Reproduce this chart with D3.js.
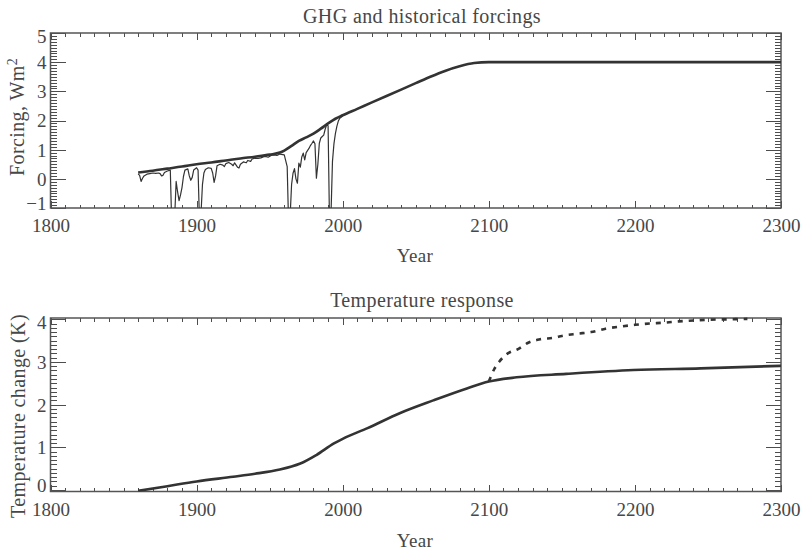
<!DOCTYPE html>
<html>
<head>
<meta charset="utf-8">
<script src="https://cdn.jsdelivr.net/npm/d3@7"></script>
<style>
  html, body { margin: 0; padding: 0; background: #fff; }
  svg { display: block; }
  text { font-family: "Liberation Serif", "DejaVu Serif", serif; fill: #474747; }
</style>
</head>
<body>
<svg id="chart" width="801" height="551"></svg>
<script>
// ---- Forcing panel data (W m^-2) ----
const ghgYears = [1860, 1870, 1880, 1890, 1900, 1910, 1920, 1930, 1940, 1950, 1957, 1960, 1965, 1970, 1975, 1980, 1985, 1990, 1995, 2000, 2010, 2020, 2030, 2040, 2050, 2060, 2070, 2080, 2090, 2100, 2300];
const ghgValues = [0.22, 0.28, 0.35, 0.42, 0.5, 0.56, 0.63, 0.70, 0.76, 0.83, 0.9, 0.97, 1.13, 1.3, 1.42, 1.55, 1.72, 1.9, 2.06, 2.18, 2.4, 2.62, 2.84, 3.06, 3.28, 3.5, 3.7, 3.86, 3.97, 4.0, 4.0];

const histYears = [1860, 1861, 1862, 1863, 1864, 1866, 1868, 1870, 1872, 1874, 1875, 1876, 1877, 1878, 1880, 1882, 1883, 1884, 1885, 1886, 1887, 1888, 1889, 1890, 1891, 1892, 1894, 1895, 1896, 1897, 1898, 1900, 1901, 1902, 1903, 1904, 1905, 1906, 1908, 1910, 1911, 1912, 1913, 1914, 1916, 1918, 1919, 1920, 1922, 1924, 1925, 1926, 1928, 1929, 1930, 1932, 1934, 1935, 1937, 1938, 1940, 1942, 1944, 1946, 1947, 1949, 1951, 1953, 1955, 1957, 1960, 1962, 1963, 1964, 1965, 1966, 1967, 1968, 1969, 1970, 1971, 1972, 1973, 1974, 1975, 1977, 1978, 1979, 1980, 1981, 1982, 1983, 1984, 1985, 1986, 1987, 1988, 1989, 1990, 1991, 1992, 1993, 1994, 1995, 1996, 1997, 1998, 2000];
const histValues = [0.17, 0.12, -0.09, 0.02, 0.1, 0.16, 0.18, 0.2, 0.19, 0.2, 0.18, 0.1, 0.12, 0.22, 0.27, 0.3, -1.6, -1.4, -1.3, -0.09, -0.45, -0.75, -0.55, -0.3, 0.08, 0.3, 0.34, 0.1, -0.05, 0.05, 0.3, 0.38, 0.3, -1.5, -1.2, -0.2, 0.2, 0.32, 0.38, 0.36, 0.2, -0.12, 0.1, 0.45, 0.5, 0.47, 0.42, 0.52, 0.56, 0.5, 0.45, 0.55, 0.4, 0.37, 0.5, 0.58, 0.55, 0.63, 0.6, 0.68, 0.71, 0.7, 0.72, 0.76, 0.77, 0.74, 0.8, 0.82, 0.8, 0.85, 0.82, 0.42, -1.6, -1.3, -0.2, 0.19, 0.35, 0.0, -0.15, 0.54, 0.4, 0.75, 0.88, 0.65, 0.9, 1.05, 1.15, 1.22, 1.3, 1.2, 0.02, 0.5, 1.22, 1.4, 1.45, 1.5, 1.7, 1.85, 1.82, -1.6, -1.2, 0.6, 1.2, 1.55, 1.8, 1.98, 2.08, 2.15];

// ---- Temperature panel data (K) ----
const tempYears = [1860, 1880, 1900, 1925, 1940, 1957, 1965, 1971, 1982, 1994, 2000, 2017, 2039, 2062, 2085, 2100, 2119, 2153, 2199, 2245, 2300];
const tempValues = [-0.02, 0.09, 0.2, 0.31, 0.38, 0.48, 0.55, 0.62, 0.82, 1.09, 1.2, 1.45, 1.8, 2.1, 2.38, 2.54, 2.64, 2.72, 2.81, 2.85, 2.91];

const altYears = [2100, 2104, 2107, 2113, 2120, 2127, 2135, 2145, 2150, 2160, 2170, 2180, 2190, 2200, 2210, 2220, 2230, 2240, 2250, 2265, 2277];
const altValues = [2.54, 2.85, 3.0, 3.2, 3.3, 3.45, 3.53, 3.57, 3.61, 3.66, 3.7, 3.78, 3.83, 3.87, 3.9, 3.92, 3.95, 3.97, 3.99, 4.0, 4.01];

// ---- Axis ticks ----
const yearTicks = [1800, 1900, 2000, 2100, 2200, 2300];
const forcingTicks = [-1, 0, 1, 2, 3, 4, 5];
const tempTicks = [0, 1, 2, 3, 4];

const svg = d3.select("#chart");
const ink = "#333";
const frameInk = "#555";
const tickInk = "#4d4d4d";

const zip = (xs, ys) => xs.map((x, i) => [x, ys[i]]);

function panel(opts) {
  const x = d3.scaleLinear().domain([1800, 2300]).range([50.5, 781]);
  const y = d3.scaleLinear().domain(opts.yDomain).range([opts.bottom, opts.top]);
  const g = svg.append("g");
  const [x0, x1] = x.range();

  const clipId = "clip-" + opts.id;
  svg.append("clipPath").attr("id", clipId)
    .append("rect").attr("x", x0).attr("y", opts.top - 1.5).attr("width", x1 - x0).attr("height", opts.bottom - opts.top + 1.5);

  const minorX = d3.range(1800, 2301, 10).filter(v => v % 100 !== 0);
  const [lo, hi] = opts.yTicks.length ? [opts.yTicks[0], opts.yTicks[opts.yTicks.length - 1]] : [0, 0];
  const minorY = d3.range(lo * 10, hi * 10 + 1).map(v => v / 10)
    .filter(v => Math.abs(v - Math.round(v)) > 1e-6);

  const styleAxis = sel => {
    sel.select(".domain").remove();
    sel.selectAll("line").attr("stroke", tickInk).attr("stroke-width", 1).attr("shape-rendering", "crispEdges");
  };

  // bottom + top edges
  g.append("g").attr("transform", `translate(0,${opts.bottom})`)
    .call(d3.axisBottom(x).tickValues(minorX).tickSize(-3.5).tickFormat("")).call(styleAxis);
  g.append("g").attr("transform", `translate(0,${opts.bottom})`)
    .call(d3.axisBottom(x).tickValues(yearTicks).tickSize(-7).tickPadding(11).tickFormat(d3.format("d")))
    .call(styleAxis)
    .call(s => s.selectAll("text").attr("font-size", 19).attr("fill", "#474747")
      .style("font-family", '"Liberation Serif", serif'));
  g.append("g").attr("transform", `translate(0,${opts.top})`)
    .call(d3.axisTop(x).tickValues(minorX).tickSize(-3.5).tickFormat("")).call(styleAxis);
  g.append("g").attr("transform", `translate(0,${opts.top})`)
    .call(d3.axisTop(x).tickValues(yearTicks).tickSize(-7).tickFormat("")).call(styleAxis);

  // left + right edges
  g.append("g").attr("transform", `translate(${x0},0)`)
    .call(d3.axisLeft(y).tickValues(minorY).tickSize(-6).tickFormat("")).call(styleAxis);
  g.append("g").attr("transform", `translate(${x0},0)`)
    .call(d3.axisLeft(y).tickValues(opts.yTicks).tickSize(-15).tickPadding(4)
      .tickFormat(v => v < 0 ? "\u2212" + Math.abs(v) : String(v)))
    .call(styleAxis)
    .call(s => s.selectAll("text").attr("font-size", 19).attr("fill", "#474747")
      .style("font-family", '"Liberation Serif", serif')
      // end labels sit slightly inside the frame
      .attr("dy", d => d === lo ? "0.1em" : d === hi ? "0.5em" : "0.34em"));
  g.append("g").attr("transform", `translate(${x1},0)`)
    .call(d3.axisRight(y).tickValues(minorY).tickSize(-6).tickFormat("")).call(styleAxis);
  g.append("g").attr("transform", `translate(${x1},0)`)
    .call(d3.axisRight(y).tickValues(opts.yTicks).tickSize(-15).tickFormat("")).call(styleAxis);

  // frame
  g.append("rect").attr("x", x0).attr("y", opts.top).attr("width", x1 - x0).attr("height", opts.bottom - opts.top)
    .attr("fill", "none").attr("stroke", frameInk).attr("stroke-width", 1.5);

  // title and axis labels
  g.append("text").attr("x", 422).attr("y", opts.titleY).attr("text-anchor", "middle")
    .attr("font-size", 20).attr("letter-spacing", 0.4).text(opts.title);
  g.append("text").attr("x", 415).attr("y", opts.xLabelY).attr("text-anchor", "middle")
    .attr("font-size", 19).attr("letter-spacing", 0.4).text("Year");

  const yl = g.append("text")
    .attr("transform", `translate(${opts.yLabelX},${opts.yLabelY}) rotate(-90)`)
    .attr("text-anchor", "middle").attr("font-size", 20).attr("letter-spacing", 0.4);
  opts.yLabel(yl);

  const plot = g.append("g").attr("clip-path", `url(#${clipId})`);
  return { x, y, plot };
}

// ---- Upper panel: forcings ----
const p1 = panel({
  id: "forcing", top: 33, bottom: 208, yDomain: [-1, 5], yTicks: forcingTicks,
  title: "GHG and historical forcings", titleY: 22.5, xLabelY: 261.5,
  yLabelX: 24, yLabelY: 117,
  yLabel: t => {
    t.append("tspan").text("Forcing, Wm");
    t.append("tspan").attr("dy", -7).attr("font-size", 14).text("2");
  }
});
const line1 = d3.line().x(d => p1.x(d[0])).y(d => p1.y(d[1]));
p1.plot.append("path").datum(zip(histYears, histValues)).attr("d", line1)
  .attr("fill", "none").attr("stroke", ink).attr("stroke-width", 1.2).attr("stroke-linejoin", "round");
p1.plot.append("path").datum(zip(ghgYears, ghgValues)).attr("d", line1.curve(d3.curveMonotoneX))
  .attr("fill", "none").attr("stroke", ink).attr("stroke-width", 2.6).attr("stroke-linejoin", "round");

// ---- Lower panel: temperature response ----
const p2 = panel({
  id: "temp", top: 318, bottom: 491.5, yDomain: [-0.035, 4.03], yTicks: tempTicks,
  title: "Temperature response", titleY: 306.5, xLabelY: 546.5,
  yLabelX: 25, yLabelY: 416,
  yLabel: t => t.text("Temperature change (K)")
});
const line2 = d3.line().x(d => p2.x(d[0])).y(d => p2.y(d[1])).curve(d3.curveMonotoneX);
p2.plot.append("path").datum(zip(tempYears, tempValues)).attr("d", line2)
  .attr("fill", "none").attr("stroke", ink).attr("stroke-width", 2.6);
p2.plot.append("path").datum(zip(altYears, altValues)).attr("d", line2)
  .attr("fill", "none").attr("stroke", ink).attr("stroke-width", 2.6).attr("stroke-dasharray", "5,6");
</script>
</body>
</html>
